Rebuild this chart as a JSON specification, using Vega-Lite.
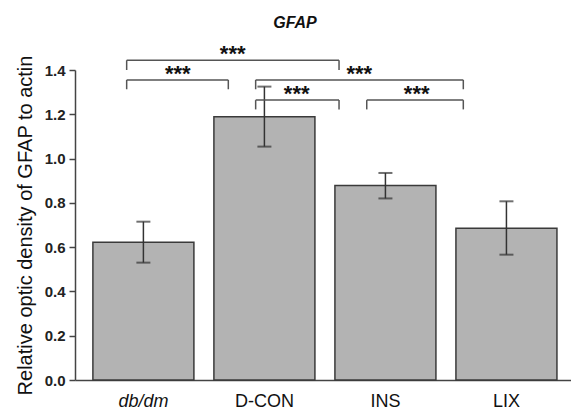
{
  "$schema": "https://vega.github.io/schema/vega-lite/v6.json",
  "width": 496,
  "height": 310,
  "autosize": {"type": "none"},
  "padding": {"left": 75, "top": 70, "right": 0, "bottom": 33},
  "background": "white",
  "config": {
    "font": "Liberation Sans",
    "view": {"stroke": null}
  },
  "title": {
    "text": "GFAP",
    "font": "Liberation Sans",
    "fontSize": 16,
    "fontWeight": "bold",
    "fontStyle": "italic",
    "color": "#111",
    "anchor": "middle",
    "baseline": "alphabetic",
    "dx": -28,
    "offset": -1
  },
  "datasets": {
    "bars": [
      {"group": "db/dm", "mean": 0.622, "lo": 0.530, "hi": 0.715},
      {"group": "D-CON", "mean": 1.189, "lo": 1.054, "hi": 1.325},
      {"group": "INS", "mean": 0.878, "lo": 0.820, "hi": 0.935},
      {"group": "LIX", "mean": 0.685, "lo": 0.566, "hi": 0.807}
    ],
    "brackets": [
      {"x1": -0.139, "x2": 1.616, "y": 1.444, "ylo": 1.400, "sx": 0.737, "label": "***"},
      {"x1": -0.139, "x2": 0.701, "y": 1.355, "ylo": 1.313, "sx": 0.283, "label": "***"},
      {"x1": 0.927, "x2": 2.643, "y": 1.355, "ylo": 1.313, "sx": 1.783, "label": "***"},
      {"x1": 0.927, "x2": 1.616, "y": 1.264, "ylo": 1.222, "sx": 1.266, "label": "***"},
      {"x1": 1.845, "x2": 2.643, "y": 1.264, "ylo": 1.222, "sx": 2.258, "label": "***"}
    ]
  },
  "resolve": {"scale": {"x": "independent"}, "axis": {"x": "independent"}},
  "layer": [
    {
      "data": {"name": "bars"},
      "layer": [
        {
          "mark": {"type": "bar", "fill": "#b3b3b3", "stroke": "#3a3a3a", "strokeWidth": 1.5},
          "encoding": {
            "x": {
              "field": "group", "type": "nominal", "sort": null,
              "scale": {"paddingInner": 0.1653, "paddingOuter": 0.132, "align": 0.56},
              "axis": {
                "title": null, "ticks": false, "labelAngle": 0,
                "labelFont": "Liberation Sans", "labelFontSize": 18, "labelColor": "#111",
                "labelPadding": 12,
                "labelFontStyle": {"condition": {"test": "datum.value == 'db/dm'", "value": "italic"}, "value": "normal"},
                "domainColor": "#444", "domainWidth": 1.5
              }
            },
            "y": {
              "field": "mean", "type": "quantitative",
              "scale": {"domain": [0, 1.4], "nice": false},
              "axis": {
                "title": "Relative optic density of GFAP to actin",
                "titleFont": "Liberation Sans", "titleFontSize": 20, "titleFontWeight": "normal", "titleColor": "#111",
                "titlePadding": 9,
                "values": [0, 0.2, 0.4, 0.6, 0.8, 1.0, 1.2, 1.4],
                "format": ".1f",
                "labelFont": "Liberation Sans", "labelFontSize": 15, "labelFontWeight": "bold", "labelColor": "#222",
                "labelPadding": 4,
                "tickSize": 6, "tickColor": "#444", "tickWidth": 1.5,
                "domainColor": "#444", "domainWidth": 1.5,
                "grid": false
              }
            }
          }
        },
        {
          "mark": {"type": "rule", "color": "#333", "strokeWidth": 1.5},
          "encoding": {
            "x": {"field": "group", "type": "nominal", "sort": null},
            "y": {"field": "lo", "type": "quantitative"},
            "y2": {"field": "hi"}
          }
        },
        {
          "mark": {"type": "tick", "color": "#333", "size": 14, "thickness": 2},
          "encoding": {
            "x": {"field": "group", "type": "nominal", "sort": null},
            "y": {"field": "hi", "type": "quantitative"}
          }
        },
        {
          "mark": {"type": "tick", "color": "#333", "size": 14, "thickness": 2},
          "encoding": {
            "x": {"field": "group", "type": "nominal", "sort": null},
            "y": {"field": "lo", "type": "quantitative"}
          }
        }
      ]
    },
    {
      "data": {"name": "brackets"},
      "layer": [
        {
          "mark": {"type": "rule", "color": "#555", "strokeWidth": 1.5, "clip": false},
          "encoding": {
            "x": {"field": "x1", "type": "quantitative", "scale": {"domain": [-0.566, 3.533], "nice": false, "zero": false}, "axis": null},
            "x2": {"field": "x2"},
            "y": {"field": "y", "type": "quantitative"}
          }
        },
        {
          "mark": {"type": "rule", "color": "#555", "strokeWidth": 1.5, "clip": false},
          "encoding": {
            "x": {"field": "x1", "type": "quantitative"},
            "y": {"field": "ylo", "type": "quantitative"},
            "y2": {"field": "y"}
          }
        },
        {
          "mark": {"type": "rule", "color": "#555", "strokeWidth": 1.5, "clip": false},
          "encoding": {
            "x": {"field": "x2", "type": "quantitative"},
            "y": {"field": "ylo", "type": "quantitative"},
            "y2": {"field": "y"}
          }
        },
        {
          "mark": {"type": "text", "font": "Liberation Sans", "fontSize": 22, "fontWeight": "bold", "color": "#111", "baseline": "alphabetic", "dy": 1, "clip": false},
          "encoding": {
            "x": {"field": "sx", "type": "quantitative"},
            "y": {"field": "y", "type": "quantitative"},
            "text": {"field": "label"}
          }
        }
      ]
    }
  ]
}
